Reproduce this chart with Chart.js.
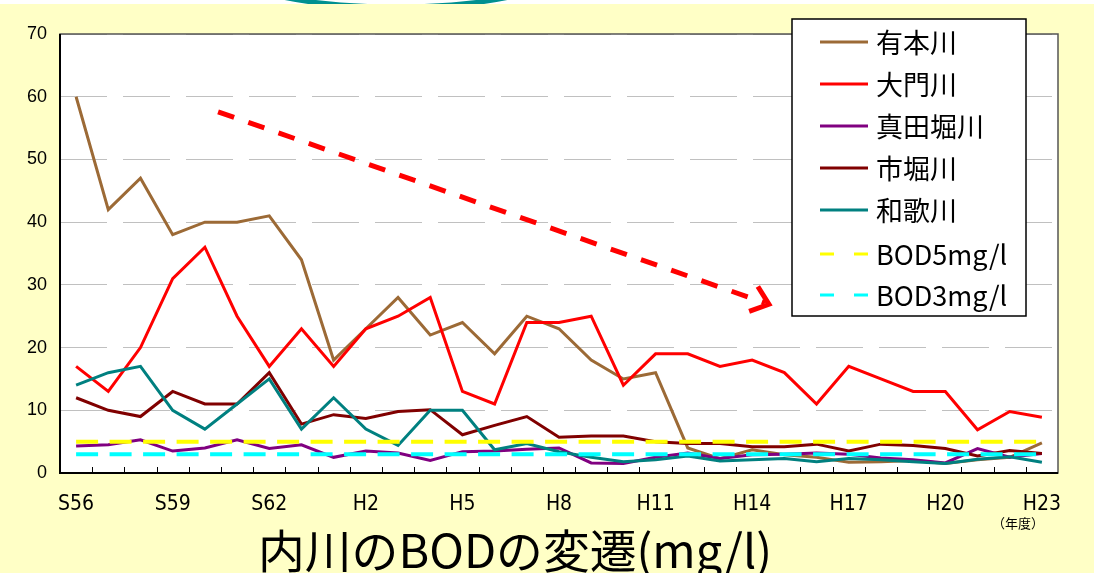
<!DOCTYPE html>
<html lang="ja">
<head>
<meta charset="utf-8">
<title>内川のBODの変遷</title>
<script src="https://cdn.jsdelivr.net/npm/chart.js@4.4.1/dist/chart.umd.min.js"></script>
<style>
  html, body { margin: 0; padding: 0; background: #FFFFC6; }
  #chart { display: block; }
</style>
</head>
<body>
<canvas id="chart" width="1094" height="573"></canvas>
<script>
// 年度 (昭和56年度〜平成23年度)
const categories = [
  'S56','S57','S58','S59','S60','S61','S62','S63',
  'H1','H2','H3','H4','H5','H6','H7','H8','H9','H10','H11','H12',
  'H13','H14','H15','H16','H17','H18','H19','H20','H21','H22','H23'
];

// BOD (mg/l)
const arimotoRiver = [60,42,47,38,40,40,41,34,18,23,28,22,24,19,25,23,18,15,16,4.0,2.3,3.7,2.9,2.5,1.7,1.8,2.0,1.5,2.1,2.5,4.8];
const daimonRiver  = [17,13,20,31,36,25,17,23,17,23,25,28,13,11,24,24,25,14,19,19,17,18,16,11,17,15,13,13,6.9,9.8,8.9];
const sanadahoriRiver = [4.3,4.5,5.3,3.5,4.0,5.3,3.9,4.5,2.5,3.5,3.2,2.0,3.4,3.5,3.8,4.0,1.6,1.5,2.5,3.2,2.3,2.9,3.0,3.2,3.0,2.4,2.1,1.6,3.9,2.5,3.1];
const ichihoriRiver = [12,10,9,13,11,11,16,7.8,9.3,8.7,9.8,10.1,6.1,7.6,9.0,5.7,5.9,5.9,5.0,4.7,4.7,4.2,4.2,4.6,3.5,4.6,4.4,3.9,2.7,3.6,3.1];
const wakaRiver = [14,16,17,10,7,11,15,7,12,7,4.4,10,10,3.7,4.7,3.4,2.5,1.8,2.1,2.7,1.9,2.1,2.3,1.8,2.3,2.1,1.8,1.5,2.2,2.6,1.7];

// 環境基準の目安
const standardBOD5 = 5;
const standardBOD3 = 3;

// Y axis range / step
const yMin = 0, yMax = 70, yStep = 10;

const seriesNames = ['有本川','大門川','真田堀川','市堀川','和歌川','BOD5mg/l','BOD3mg/l'];
const seriesColors = ['#9C6A36','#FF0000','#800080','#800000','#008080','#FFFF00','#00FFFF'];

const chartTitle = '内川のBODの変遷(mg/l)';
const unitNote = '（年度）';

const flat = v => categories.map(() => v);

const riverValues = [arimotoRiver, daimonRiver, sanadahoriRiver, ichihoriRiver, wakaRiver];
const datasets = riverValues.map((vals, i) => ({
  label: seriesNames[i],
  data: vals,
  borderColor: seriesColors[i],
  borderWidth: 3,
  pointRadius: 0,
  tension: 0,
  fill: false,
  order: 10 - i
}));
datasets.push({
  label: seriesNames[5], data: flat(standardBOD5), borderColor: seriesColors[5],
  borderWidth: 4, borderDash: [22, 11.5], pointRadius: 0, fill: false, order: 2
});
datasets.push({
  label: seriesNames[6], data: flat(standardBOD3), borderColor: seriesColors[6],
  borderWidth: 4, borderDash: [22, 11.5], pointRadius: 0, fill: false, order: 1
});

// trend arrow, in data coordinates (category index, BOD)
const trendArrow = { from: [4.41, 57.6], to: [21.52, 26.9] };

const backdrop = {
  id: 'backdrop',
  beforeDraw(chart) {
    const { ctx, chartArea: a } = chart;
    ctx.save();
    ctx.fillStyle = '#FFFFFF';
    ctx.fillRect(0, 0, chart.width, 4);

    // teal outline of a shape above, showing only along the top strip
    ctx.save();
    ctx.beginPath();
    ctx.rect(0, 0, chart.width, 4);
    ctx.clip();
    ctx.strokeStyle = '#009090';
    ctx.lineWidth = 5;
    ctx.beginPath();
    ctx.ellipse(396, -30, 166, 37, 0, 0, 2 * Math.PI);
    ctx.stroke();
    ctx.restore();

    ctx.fillStyle = '#FFFFC6';
    ctx.fillRect(0, 4, chart.width, chart.height - 4);
    ctx.fillStyle = '#FFFFFF';
    ctx.fillRect(a.left, a.top, a.right - a.left, a.bottom - a.top);
    ctx.restore();
  }
};

const decorations = {
  id: 'decorations',
  afterDatasetsDraw(chart) {
    const { ctx, chartArea: a, scales: { x, y } } = chart;
    ctx.save();

    // plot frame
    ctx.strokeStyle = '#555555';
    ctx.lineWidth = 1.5;
    ctx.strokeRect(a.left, a.top, a.right - a.left, a.bottom - a.top);
    ctx.strokeStyle = '#000000';
    ctx.lineWidth = 2;
    ctx.beginPath();
    ctx.moveTo(a.left, a.top);
    ctx.lineTo(a.left, a.bottom);
    ctx.lineTo(a.right, a.bottom);
    ctx.stroke();

    // inward tick marks between categories
    ctx.lineWidth = 1;
    const step = x.getPixelForValue(1) - x.getPixelForValue(0);
    ctx.beginPath();
    for (let i = 1; i < categories.length; i++) {
      const px = Math.round(x.getPixelForValue(i) - step / 2) + 0.5;
      ctx.moveTo(px, a.bottom);
      ctx.lineTo(px, a.bottom - 6);
    }
    ctx.stroke();

    // trend arrow
    const x0 = x.getPixelForValue(trendArrow.from[0]);
    const y0 = y.getPixelForValue(trendArrow.from[1]);
    const x1 = x.getPixelForValue(trendArrow.to[0]);
    const y1 = y.getPixelForValue(trendArrow.to[1]);
    ctx.strokeStyle = '#FF0000';
    ctx.lineWidth = 5;
    ctx.setLineDash([17, 15]);
    ctx.beginPath();
    ctx.moveTo(x0, y0);
    ctx.lineTo(x1 - 4, y1 - 1.4);
    ctx.stroke();
    ctx.setLineDash([]);
    const ang = Math.atan2(y1 - y0, x1 - x0);
    const head = 21, spread = 0.68;
    ctx.beginPath();
    ctx.moveTo(x1 + head * Math.cos(ang + Math.PI - spread), y1 + head * Math.sin(ang + Math.PI - spread));
    ctx.lineTo(x1, y1);
    ctx.lineTo(x1 + head * Math.cos(ang + Math.PI + spread), y1 + head * Math.sin(ang + Math.PI + spread));
    ctx.stroke();
    ctx.restore();
  },
  afterDraw(chart) {
    const { ctx } = chart;
    ctx.save();

    // legend box
    const box = { left: 792, top: 19, right: 1026, bottom: 316 };
    ctx.fillStyle = '#FFFFFF';
    ctx.fillRect(box.left, box.top, box.right - box.left, box.bottom - box.top);
    ctx.strokeStyle = '#000000';
    ctx.lineWidth = 1.5;
    ctx.strokeRect(box.left, box.top, box.right - box.left, box.bottom - box.top);
    const rowY = [42, 84, 126, 168, 210, 254, 295];
    chart.data.datasets.forEach((ds, i) => {
      const yy = rowY[i];
      ctx.strokeStyle = ds.borderColor;
      ctx.lineWidth = 3;
      ctx.beginPath();
      if (ds.borderDash) {
        ctx.moveTo(820, yy); ctx.lineTo(834, yy);
        ctx.moveTo(854, yy); ctx.lineTo(868, yy);
      } else {
        ctx.moveTo(820, yy); ctx.lineTo(868, yy);
      }
      ctx.stroke();
      ctx.fillStyle = '#000000';
      ctx.textBaseline = 'middle';
      ctx.textAlign = 'left';
      ctx.font = '27px "Noto Sans CJK JP", "Liberation Sans", sans-serif';
      ctx.fillText(ds.label, 876, yy + 1);
    });

    // fiscal-year note
    ctx.font = '13px "Noto Sans CJK JP", sans-serif';
    ctx.textAlign = 'center';
    ctx.fillText(unitNote, 1018, 523);

    // title
    ctx.font = '46px "Noto Sans CJK JP", sans-serif';
    ctx.textBaseline = 'alphabetic';
    const w = ctx.measureText(chartTitle).width;
    const target = 514;
    ctx.translate(515, 568);
    ctx.scale(target / w, 1);
    ctx.textAlign = 'center';
    ctx.fillText(chartTitle, 0, 0);
    ctx.restore();
  }
};

new Chart(document.getElementById('chart'), {
  type: 'line',
  data: { labels: categories, datasets },
  options: {
    responsive: false,
    animation: false,
    events: [],
    layout: { padding: { top: 34, right: 36, left: 0, bottom: 0 } },
    plugins: { legend: { display: false }, tooltip: { enabled: false }, title: { display: false } },
    scales: {
      x: {
        offset: true,
        grid: { display: false, drawTicks: false },
        border: { display: false },
        ticks: {
          autoSkip: false, maxRotation: 0, padding: 19, color: '#000',
          font: { family: '"Liberation Sans Narrow", "DejaVu Sans Condensed", sans-serif', size: 21 },
          callback: function (v, i) { return i % 3 === 0 ? this.getLabelForValue(v) : ''; }
        },
        afterFit(s) { s.height = 100; }
      },
      y: {
        min: yMin, max: yMax,
        grid: { color: '#C0C0C0', lineWidth: 1, drawTicks: false },
        border: { display: false, dash: [47, 16] },
        ticks: {
          stepSize: yStep, padding: 13, color: '#000',
          font: { family: '"Liberation Sans", sans-serif', size: 18 }
        },
        afterFit(s) { s.width = 60; }
      }
    }
  },
  plugins: [backdrop, decorations]
});
</script>
</body>
</html>
